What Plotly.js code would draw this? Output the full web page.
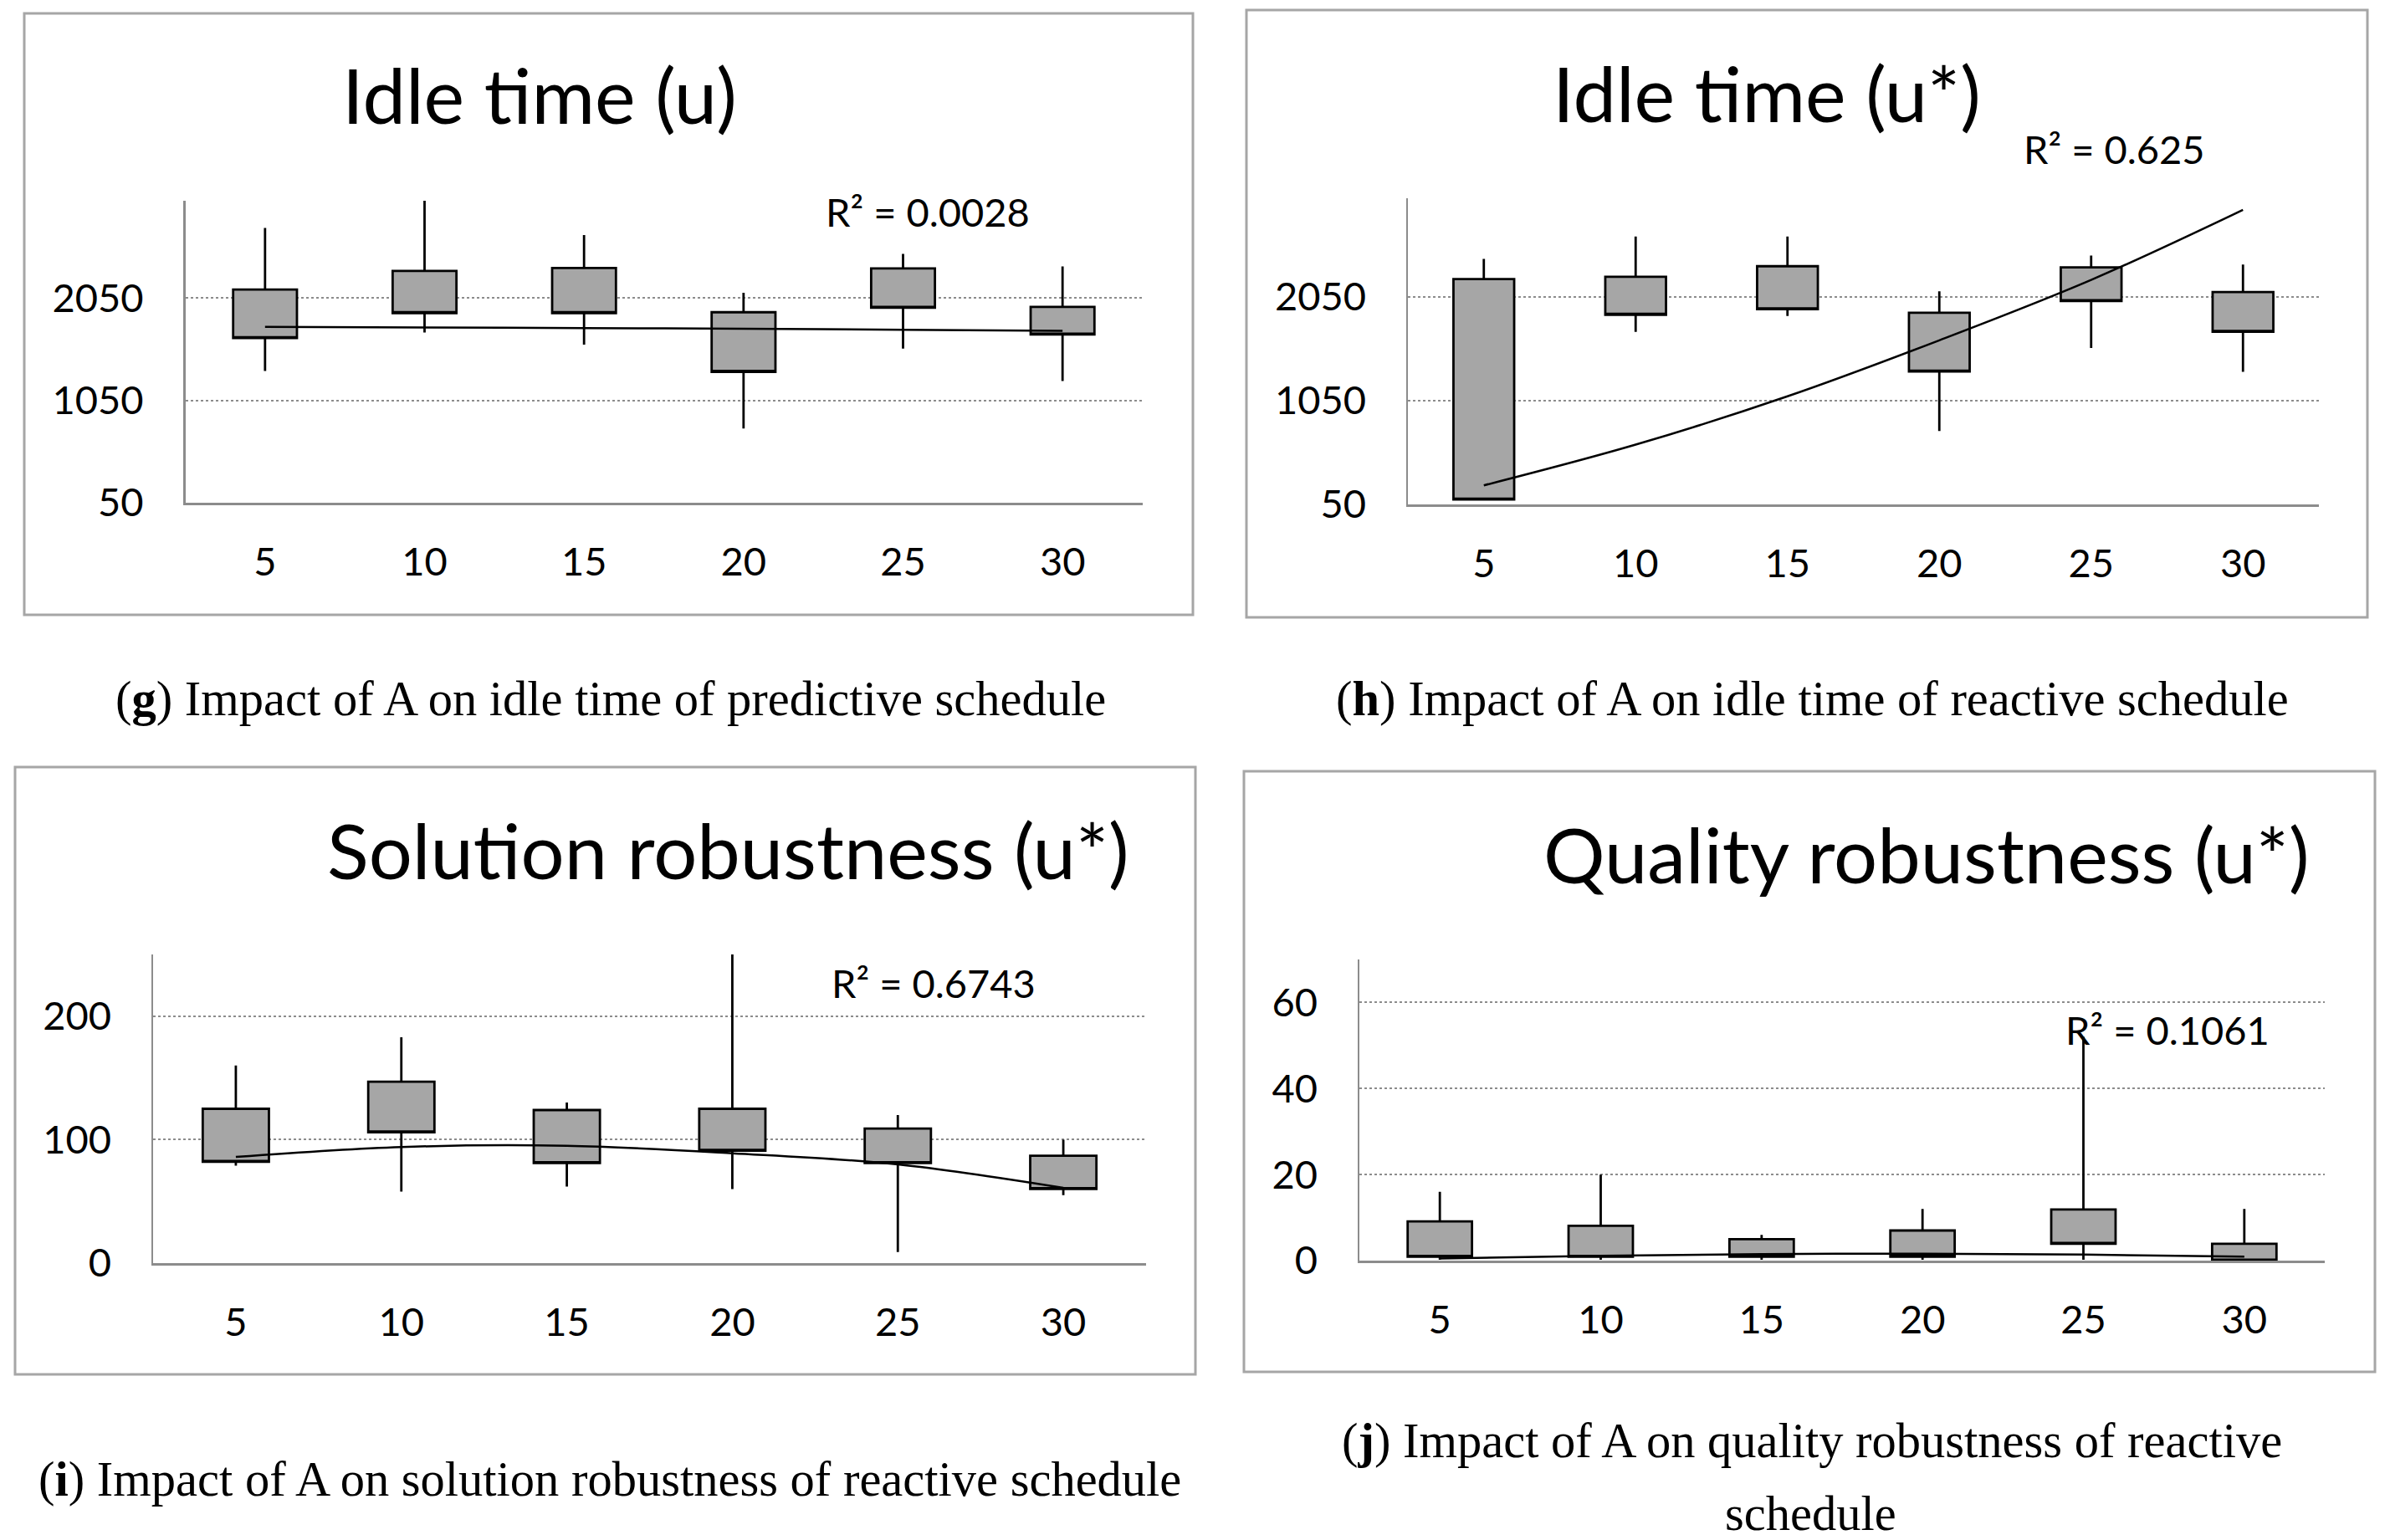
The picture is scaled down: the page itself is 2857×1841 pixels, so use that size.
<!DOCTYPE html>
<html>
<head>
<meta charset="utf-8">
<script src="https://cdn.plot.ly/plotly-3.0.1.min.js"></script>
<style>html,body{margin:0;padding:0;background:#fff;}#chart{width:2857px;height:1841px;}</style>
</head>
<body>
<div id="chart"></div>
<script>
// ---- data ----
const A = [5, 10, 15, 20, 25, 30];

// (g) Idle time (u)
const gLow   = [1337, 1713, 1595, 775, 1555, 1238];
const gHigh  = [2735, 3000, 2664, 2101, 2482, 2359];
const gBoxLo = [1658, 1903, 1903, 1329, 1955, 1694];
const gBoxHi = [2133, 2315, 2343, 1911, 2339, 1963];
const gTrend = [1769, 1763, 1756, 1750, 1740, 1729];

// (h) Idle time (u*)
const hLow   = [97, 1711, 1863, 756, 1555, 1325];
const hHigh  = [2413, 2627, 2627, 2101, 2444, 2358];
const hBoxLo = [97, 1875, 1929, 1329, 2007, 1711];
const hBoxHi = [2218, 2241, 2342, 1894, 2331, 2093];
const hTrend = [233, 625, 1090, 1629, 2210, 2884];

// (i) Solution robustness (u*)
const iLow   = [79, 58, 62, 60, 9, 55];
const iHigh  = [160, 183, 130, 250, 120, 100];
const iBoxLo = [82, 106, 81, 91, 81, 60];
const iBoxHi = [125, 147, 124, 125, 109, 87];
const iTrend = [86, 94, 95, 89, 80, 61];

// (j) Quality robustness (u*)
const jLow   = [0.2, 0.2, 0.2, 0.2, 0.2, 0];
const jHigh  = [16, 20, 6, 12, 52, 12];
const jBoxLo = [0.9, 0.9, 0.9, 0.9, 3.9, 0];
const jBoxHi = [9.1, 8.1, 5.0, 7.0, 11.9, 3.9];
const jTrend = [0.5, 1.1, 1.5, 1.6, 1.4, 0.9];

const titles = ['Idle time (u)', 'Idle time (u*)', 'Solution robustness (u*)', 'Quality robustness (u*)'];
const r2Labels = ['R² = 0.0028', 'R² = 0.625', 'R² = 0.6743', 'R² = 0.1061'];
const captions = [
  '(<b>g</b>) Impact of A on idle time of predictive schedule',
  '(<b>h</b>) Impact of A on idle time of reactive schedule',
  '(<b>i</b>) Impact of A on solution robustness of reactive schedule'
];
const captionJ1 = '(<b>j</b>) Impact of A on quality robustness of reactive';
const captionJ2 = 'schedule';

// ---- layout helpers ----
const W = 2857, H = 1841;
const px = v => v / W;
const py = v => 1 - v / H;

const sansFont = 'Lato, "Liberation Sans", Arial, sans-serif';
const serifFont = '"Liberation Serif", "DejaVu Serif", serif';

const panels = [
  {low: gLow, high: gHigh, lo: gBoxLo, hi: gBoxHi, trend: gTrend,
   plot: [221.5, 240, 1365.5, 601], border: [29, 16, 1426, 735],
   yr: [50, 3000], tick0: 50, dtick: 1000, title: [645, 113], r2: [1109, 253]},
  {low: hLow, high: hHigh, lo: hBoxLo, hi: hBoxHi, trend: hTrend,
   plot: [1683, 236.5, 2772, 603], border: [1490, 12, 2830, 738],
   yr: [50, 3000], tick0: 50, dtick: 1000, title: [2112, 111], r2: [2527, 178]},
  {low: iLow, high: iHigh, lo: iBoxLo, hi: iBoxHi, trend: iTrend,
   plot: [183, 1141, 1370, 1510], border: [18, 917, 1429, 1643],
   yr: [0, 250], tick0: 0, dtick: 100, title: [870, 1015], r2: [1116, 1175]},
  {low: jLow, high: jHigh, lo: jBoxLo, hi: jBoxHi, trend: jTrend,
   plot: [1625, 1147, 2779, 1507], border: [1487, 922, 2839, 1640],
   yr: [0, 70], tick0: 0, dtick: 20, title: [2303, 1020], r2: [2591, 1231]}
];

const data = [];
const layout = {
  width: W, height: H,
  margin: {l: 0, r: 0, t: 0, b: 0, pad: 0},
  paper_bgcolor: '#ffffff', plot_bgcolor: 'rgba(0,0,0,0)',
  showlegend: false,
  shapes: [], annotations: []
};

panels.forEach((p, k) => {
  const n = k === 0 ? '' : String(k + 1);
  data.push({
    type: 'box', x: A, q1: p.lo, median: p.lo, q3: p.hi,
    lowerfence: p.low, upperfence: p.high,
    width: 2, whiskerwidth: 0, boxpoints: false,
    fillcolor: '#a6a6a6', line: {color: '#000000', width: 2.8},
    xaxis: 'x' + n, yaxis: 'y' + n, hoverinfo: 'skip', showlegend: false
  });
  data.push({
    type: 'scatter', mode: 'lines', x: A, y: p.trend,
    line: {color: '#000000', width: 2.5, shape: 'spline'},
    xaxis: 'x' + n, yaxis: 'y' + n, hoverinfo: 'skip', showlegend: false
  });
  layout['xaxis' + n] = {
    domain: [px(p.plot[0]), px(p.plot[2])], anchor: 'y' + n,
    range: [2.5, 32.5], tickmode: 'array', tickvals: A, ticktext: A.map(String),
    showgrid: false, zeroline: false, showline: true, linecolor: '#8c8c8c', linewidth: 2.5,
    ticks: '', ticklabelstandoff: 28, fixedrange: true,
    tickfont: {family: sansFont, size: 47, color: '#000000'}
  };
  layout['yaxis' + n] = {
    domain: [py(p.plot[3]), py(p.plot[1])], anchor: 'x' + n,
    range: p.yr, tickmode: 'linear', tick0: p.tick0, dtick: p.dtick,
    showgrid: true, gridcolor: '#8c8c8c', gridwidth: 2, griddash: 'dot',
    zeroline: false, showline: true, linecolor: '#8c8c8c', linewidth: 2.5,
    ticks: '', ticklabelstandoff: 38, fixedrange: true,
    tickfont: {family: sansFont, size: 47, color: '#000000'}
  };
  layout.shapes.push({
    type: 'rect', xref: 'paper', yref: 'paper',
    x0: px(p.border[0]), x1: px(p.border[2]), y0: py(p.border[3]), y1: py(p.border[1]),
    line: {color: '#a6a6a6', width: 3}, fillcolor: 'rgba(0,0,0,0)'
  });
  layout.annotations.push({
    xref: 'paper', yref: 'paper', x: px(p.title[0]), y: py(p.title[1]),
    xanchor: 'center', yanchor: 'middle', showarrow: false,
    text: titles[k], font: {family: sansFont, size: 92, color: '#000000'}
  });
  layout.annotations.push({
    xref: 'paper', yref: 'paper', x: px(p.r2[0]), y: py(p.r2[1]),
    xanchor: 'center', yanchor: 'middle', showarrow: false,
    text: r2Labels[k], font: {family: sansFont, size: 47, color: '#000000'}
  });
});

const capSize = 58.5;
const capPos = [[730, 836], [2166, 836], [729, 1768]];
captions.forEach((c, k) => {
  layout.annotations.push({
    xref: 'paper', yref: 'paper', x: px(capPos[k][0]), y: py(capPos[k][1]),
    xanchor: 'center', yanchor: 'middle', showarrow: false,
    text: c, font: {family: serifFont, size: capSize, color: '#000000'}
  });
});
layout.annotations.push({
  xref: 'paper', yref: 'paper', x: px(2166), y: py(1722),
  xanchor: 'center', yanchor: 'middle', showarrow: false,
  text: captionJ1, font: {family: serifFont, size: capSize, color: '#000000'}
});
layout.annotations.push({
  xref: 'paper', yref: 'paper', x: px(2164), y: py(1809),
  xanchor: 'center', yanchor: 'middle', showarrow: false,
  text: captionJ2, font: {family: serifFont, size: capSize, color: '#000000'}
});

Plotly.newPlot('chart', data, layout, {staticPlot: true, displayModeBar: false});
</script>
</body>
</html>
